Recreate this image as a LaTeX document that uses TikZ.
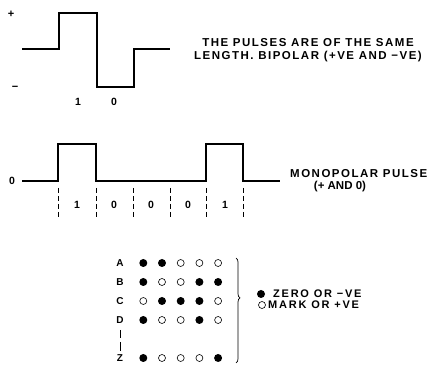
\documentclass[tikz,border=0pt]{standalone}
\usepackage{fontspec}
\setmainfont{Liberation Sans}
\newfontfamily\capsfont[LetterSpace=13]{Liberation Sans}
\newfontfamily\keyfont[LetterSpace=16]{Liberation Sans}
\usetikzlibrary{decorations.pathreplacing}

\tikzset{
  wave/.style={line width=1.3pt, line join=miter},
  tickline/.style={line width=0.6pt, dash pattern=on 5pt off 3pt},
  caption/.style={font=\capsfont\bfseries\fontsize{11.5}{13.4}\selectfont, align=center, inner sep=0pt},
  subcaption/.style={font=\bfseries\fontsize{11.5}{13.4}\selectfont, inner sep=0pt},
  legendtext/.style={font=\keyfont\bfseries\fontsize{11}{12}\selectfont, anchor=west, inner sep=0pt},
  digit/.style={font=\bfseries\fontsize{10.5}{12}\selectfont, inner sep=0pt},
  sign/.style={font=\fontsize{11}{12}\selectfont\bfseries, inner sep=0pt},
  rowlbl/.style={font=\bfseries\fontsize{10}{11}\selectfont, inner sep=0pt},
  zerodot/.style={circle, fill=black, inner sep=0pt, minimum size=8pt},
  markdot/.style={circle, draw=black, line width=0.6pt, inner sep=0pt, minimum size=7pt},
}

\begin{document}
\begin{tikzpicture}[x=1pt, y=-1pt]
\useasboundingbox[fill=white] (0,0) rectangle (432,366);

% ---- bipolar pulses ----
\node[sign] (plus) at (11,14) {+};
\node[sign] (minus) at (15,88) {−};
\draw[wave] (22,49) -- (59,49) -- (59,13) -- (97,13) -- (97,87)
            -- (134,87) -- (134,49) -- (170,49);
\node[digit] (bp1) at (78,102) {1};
\node[digit] (bp0) at (114,102) {0};
\node[caption] (bpcap) at (308,50) {THE PULSES ARE OF THE SAME\\LENGTH.\ BIPOLAR (+VE AND −VE)};

% ---- monopolar pulses ----
\node[digit] (zerolvl) at (12,181) {0};
\draw[wave] (22,181) -- (58,181) -- (58,144) -- (96,144) -- (96,181)
            -- (206,181) -- (206,144) -- (243,144) -- (243,181) -- (280,181);
\foreach \x in {58,96,133,170,206,243}
  \draw[tickline] (\x,188) -- (\x,219);
\foreach \x/\b [count=\i] in {77/1,114/0,151/0,188/0,225/1}
  \node[digit] (mp\i) at (\x,205) {\b};
\node[caption, anchor=west] (mpcap) at (290,174) {MONOPOLAR PULSE};
\node[subcaption] (mpsub) at (340,187) {(+ AND 0)};

% ---- code table ----
\foreach \lbl/\y/\codes in {A/263/{1,1,0,0,0}, B/282/{1,0,0,1,1},
                            C/301/{0,1,1,1,0}, D/320/{1,0,0,1,0},
                            Z/358/{1,0,0,0,1}} {
  \node[rowlbl] (row\lbl) at (120,\y) {\lbl};
  \foreach \c [count=\j] in \codes {
    \pgfmathsetmacro{\cx}{124.6+18.7*\j}
    \ifnum\c=1
      \node[zerodot] (dot\lbl\j) at (\cx,\y) {};
    \else
      \node[markdot] (dot\lbl\j) at (\cx,\y) {};
    \fi
  }
}
\draw[line width=1pt] (120,330) -- (120,338);
\draw[line width=1pt] (120,342) -- (120,351);

% ---- brace and legend ----
\coordinate (bracetop) at (236,258);
\coordinate (bracebot) at (236,363);
\draw[line width=0.7pt, decorate, decoration={brace, amplitude=4pt, aspect=0.38}]
  (bracetop) -- (bracebot);
\node[zerodot] (keyzero) at (261,294) {};
\node[legendtext] (keyzerotxt) at (273,294) {ZERO OR −VE};
\node[markdot] (keymark) at (262,305) {};
\node[legendtext] (keymarktxt) at (268,305) {MARK OR +VE};
\end{tikzpicture}
\end{document}
